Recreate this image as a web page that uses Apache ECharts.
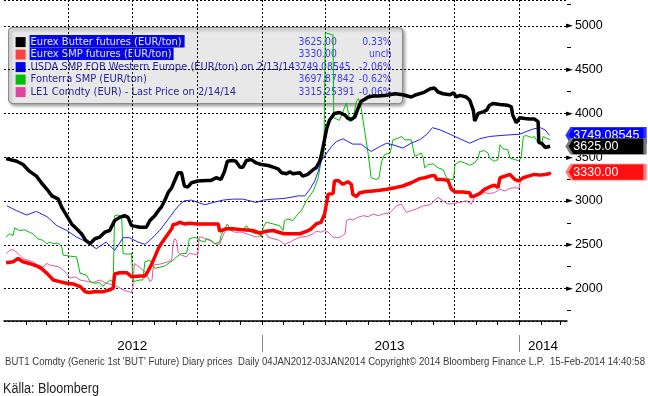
<!DOCTYPE html>
<html>
<head>
<meta charset="utf-8">
<script src="https://cdn.jsdelivr.net/npm/echarts@6/dist/echarts.min.js"></script>
<style>
  html, body { margin: 0; padding: 0; background: #fff; }
  #chart { width: 648px; height: 396px; }
</style>
</head>
<body>
<div id="chart"></div>
<script>
// Eurex butter futures (EUR/ton)
const butter = [
  ['2012-01-04',3484],['2012-01-19',3453],['2012-01-28',3416],['2012-02-06',3340],['2012-02-16',3284],
  ['2012-02-23',3208],['2012-03-02',3133],['2012-03-09',3058],['2012-03-18',3021],['2012-03-23',2926],
  ['2012-03-30',2832],['2012-04-06',2738],['2012-04-13',2682],['2012-04-20',2626],['2012-04-26',2550],
  ['2012-05-02',2512],['2012-05-09',2569],['2012-05-16',2588],['2012-05-23',2644],['2012-05-30',2663],
  ['2012-06-06',2776],['2012-06-13',2813],['2012-06-20',2832],['2012-06-25',2813],['2012-06-30',2719],
  ['2012-07-12',2700],['2012-07-21',2700],['2012-07-26',2776],['2012-08-02',2832],['2012-08-07',2889],
  ['2012-08-11',2926],['2012-08-16',3002],['2012-08-21',3096],['2012-08-26',3152],['2012-08-30',3228],
  ['2012-09-04',3322],['2012-09-09',3322],['2012-09-13',3171],['2012-09-18',3160],['2012-09-23',3208],
  ['2012-10-02',3228],['2012-10-14',3235],['2012-10-21',3235],['2012-10-28',3265],['2012-11-04',3246],
  ['2012-11-09',3340],['2012-11-13',3453],['2012-11-20',3461],['2012-11-25',3453],['2012-12-01',3386],
  ['2012-12-05',3386],['2012-12-10',3461],['2012-12-17',3472],['2012-12-24',3434],['2012-12-31',3416],
  ['2013-01-10',3405],['2013-01-17',3386],['2013-01-24',3367],['2013-01-29',3322],['2013-02-05',3310],
  ['2013-02-10',3333],['2013-02-14',3310],['2013-02-24',3322],['2013-02-28',3284],['2013-03-07',3303],
  ['2013-03-15',3359],['2013-03-19',3378],['2013-03-24',3453],['2013-03-26',3510],['2013-03-29',3623],
  ['2013-04-03',3829],['2013-04-07',3924],['2013-04-14',3999],['2013-04-21',4010],['2013-04-29',3980],
  ['2013-05-03',3942],['2013-05-08',3931],['2013-05-13',3961],['2013-05-17',4048],['2013-05-22',4139],
  ['2013-05-27',4161],['2013-06-01',4187],['2013-06-08',4198],['2013-06-15',4198],['2013-06-27',4206],
  ['2013-07-09',4224],['2013-07-20',4213],['2013-08-01',4187],['2013-08-08',4213],['2013-08-18',4236],
  ['2013-08-28',4281],['2013-09-03',4289],['2013-09-08',4244],['2013-09-15',4224],['2013-09-25',4213],
  ['2013-09-30',4236],['2013-10-04',4187],['2013-10-09',4206],['2013-10-18',4187],['2013-10-23',4150],
  ['2013-10-28',4037],['2013-10-30',3913],['2013-11-04',3999],['2013-11-11',4018],['2013-11-16',4037],
  ['2013-11-20',4093],['2013-11-25',4112],['2013-12-05',4101],['2013-12-16',4093],['2013-12-21',4074],
  ['2013-12-23',3980],['2013-12-28',3894],['2014-01-02',3950],['2014-01-09',3942],['2014-01-16',3935],
  ['2014-01-23',3935],['2014-01-28',3905],['2014-01-29',3668],['2014-02-02',3660],['2014-02-07',3611],
  ['2014-02-09',3592],['2014-02-14',3625]
]

// Eurex SMP futures (EUR/ton)
const smp = [
  ['2012-01-04',2294],['2012-01-14',2306],['2012-01-21',2343],['2012-01-28',2306],['2012-02-06',2287],
  ['2012-02-16',2260],['2012-02-23',2231],['2012-03-02',2174],['2012-03-11',2098],['2012-03-20',2079],
  ['2012-03-30',2061],['2012-04-08',2053],['2012-04-18',2023],['2012-04-25',1966],['2012-04-30',1955],
  ['2012-05-11',1966],['2012-05-20',1963],['2012-05-30',1986],['2012-06-04',2005],['2012-06-06',2166],
  ['2012-06-13',2181],['2012-06-23',2181],['2012-06-30',2136],['2012-07-12',2144],['2012-07-19',2144],
  ['2012-07-23',2192],['2012-07-29',2287],['2012-08-02',2362],['2012-08-07',2456],['2012-08-11',2512],
  ['2012-08-16',2569],['2012-08-21',2626],['2012-08-26',2682],['2012-08-28',2731],['2012-09-02',2738],
  ['2012-09-06',2757],['2012-09-13',2738],['2012-09-20',2746],['2012-10-02',2738],['2012-10-14',2738],
  ['2012-10-31',2738],['2012-11-02',2655],['2012-11-11',2682],['2012-11-20',2682],['2012-12-01',2674],
  ['2012-12-10',2670],['2012-12-19',2663],['2012-12-29',2633],['2013-01-07',2655],['2013-01-17',2663],
  ['2013-01-26',2640],['2013-02-02',2626],['2013-02-14',2626],['2013-02-24',2626],['2013-03-05',2652],
  ['2013-03-12',2682],['2013-03-19',2738],['2013-03-26',2757],['2013-03-31',2851],['2013-04-05',3077],
  ['2013-04-12',3084],['2013-04-14',3228],['2013-04-19',3235],['2013-04-26',3190],['2013-05-03',3220],
  ['2013-05-08',3190],['2013-05-10',3077],['2013-05-15',3050],['2013-05-20',3095],['2013-05-29',3107],
  ['2013-06-08',3115],['2013-06-17',3122],['2013-06-27',3133],['2013-07-09',3152],['2013-07-20',3171],
  ['2013-08-01',3208],['2013-08-13',3255],['2013-08-20',3265],['2013-08-28',3284],['2013-09-03',3292],
  ['2013-09-06',3246],['2013-09-15',3246],['2013-09-22',3235],['2013-09-27',3133],['2013-10-02',3103],
  ['2013-10-13',3103],['2013-10-23',3095],['2013-10-25',3047],['2013-10-30',3058],['2013-11-06',3084],
  ['2013-11-13',3133],['2013-11-20',3160],['2013-11-27',3182],['2013-12-02',3152],['2013-12-05',3265],
  ['2013-12-12',3284],['2013-12-19',3303],['2013-12-26',3246],['2013-12-31',3228],['2014-01-07',3265],
  ['2014-01-14',3284],['2014-01-23',3303],['2014-01-31',3295],['2014-02-07',3303],['2014-02-13',3310],
  ['2014-02-14',3330]
]

// USDA SMP FOB Western Europe (EUR/ton)
const usda = [
  ['2012-01-05',2945],['2012-01-19',2889],['2012-02-02',2840],['2012-02-16',2881],['2012-03-02',2821],
  ['2012-03-16',2719],['2012-03-30',2663],['2012-04-13',2588],['2012-04-27',2531],['2012-05-11',2456],
  ['2012-05-18',2494],['2012-05-25',2531],['2012-06-01',2475],['2012-06-06',2437],['2012-06-11',2494],
  ['2012-06-18',2581],['2012-06-27',2581],['2012-07-09',2531],['2012-07-19',2505],['2012-07-26',2550],
  ['2012-08-02',2607],['2012-08-09',2663],['2012-08-16',2738],['2012-08-23',2813],['2012-08-30',2889],
  ['2012-09-06',2957],['2012-09-13',3002],['2012-09-23',3010],['2012-09-30',2990],['2012-10-12',2957],
  ['2012-10-24',2983],['2012-11-07',3010],['2012-11-20',3021],['2012-12-05',3021],['2012-12-15',3002],
  ['2012-12-24',2983],['2013-01-03',3010],['2013-01-17',3021],['2013-01-31',3028],['2013-02-10',3040],
  ['2013-02-21',3058],['2013-03-03',3058],['2013-03-10',3133],['2013-03-17',3228],['2013-03-22',3340],
  ['2013-03-26',3453],['2013-04-03',3547],['2013-04-10',3623],['2013-04-17',3679],['2013-04-26',3710],
  ['2013-05-03',3679],['2013-05-10',3649],['2013-05-22',3649],['2013-05-29',3604],['2013-06-05',3566],
  ['2013-06-15',3611],['2013-06-27',3660],['2013-07-09',3634],['2013-07-20',3604],['2013-08-01',3660],
  ['2013-08-13',3700],['2013-08-23',3760],['2013-08-31',3837],['2013-09-11',3811],['2013-09-25',3762],
  ['2013-10-09',3710],['2013-10-23',3660],['2013-11-06',3710],['2013-11-20',3736],['2013-12-05',3747],
  ['2013-12-19',3755],['2014-01-02',3762],['2014-01-11',3792],['2014-01-21',3822],['2014-01-31',3837],
  ['2014-02-07',3811],['2014-02-13',3749]
]

// Fonterra SMP (EUR/ton)
const fonterra = [
  ['2012-01-04',2587],['2012-01-09',2626],['2012-01-14',2607],['2012-01-16',2694],['2012-01-23',2663],
  ['2012-01-30',2670],['2012-02-06',2644],['2012-02-11',2626],['2012-02-18',2569],['2012-02-25',2550],
  ['2012-03-02',2512],['2012-03-06',2531],['2012-03-11',2512],['2012-03-18',2520],['2012-03-23',2475],
  ['2012-03-25',2381],['2012-04-04',2370],['2012-04-13',2362],['2012-04-18',2174],['2012-04-27',2155],
  ['2012-05-02',2079],['2012-05-09',2061],['2012-05-16',2068],['2012-05-20',2023],['2012-05-25',2061],
  ['2012-05-30',2098],['2012-06-04',2079],['2012-06-06',2832],['2012-06-11',2840],['2012-06-16',2813],
  ['2012-06-18',2400],['2012-06-25',2392],['2012-06-30',2400],['2012-07-02',2079],['2012-07-12',2098],
  ['2012-07-16',2098],['2012-07-19',2306],['2012-07-26',2324],['2012-08-02',2231],['2012-08-16',2257],
  ['2012-08-28',2324],['2012-09-02',2362],['2012-09-09',2400],['2012-09-16',2400],['2012-09-18',2475],
  ['2012-09-20',2569],['2012-09-28',2587],['2012-10-05',2550],['2012-10-12',2531],['2012-10-14',2569],
  ['2012-10-21',2550],['2012-10-26',2512],['2012-11-02',2531],['2012-11-04',2607],['2012-11-09',2682],
  ['2012-11-13',2738],['2012-11-18',2663],['2012-11-25',2682],['2012-12-05',2663],['2012-12-10',2719],
  ['2012-12-17',2644],['2012-12-24',2626],['2012-12-29',2626],['2012-12-31',2588],['2013-01-03',2700],
  ['2013-01-07',2757],['2013-01-17',2738],['2013-01-26',2719],['2013-01-31',2663],['2013-02-02',2776],
  ['2013-02-07',2795],['2013-02-14',2776],['2013-02-21',2851],['2013-02-26',2889],['2013-03-05',3002],
  ['2013-03-15',3115],['2013-03-22',3265],['2013-03-26',3453],['2013-03-30',3530],['2013-04-01',4920],
  ['2013-04-12',4895],['2013-04-13',3950],['2013-04-21',3920],['2013-05-01',4120],['2013-05-06',3905],
  ['2013-05-10',3924],['2013-05-15',4131],['2013-05-18',4170],['2013-05-22',4055],['2013-05-27',3792],
  ['2013-06-01',3529],['2013-06-05',3265],['2013-06-12',3246],['2013-06-16',3258],['2013-06-20',3453],
  ['2013-06-24',3529],['2013-07-02',3547],['2013-07-06',3698],['2013-07-13',3716],['2013-07-18',3736],
  ['2013-07-23',3698],['2013-08-01',3698],['2013-08-06',3510],['2013-08-11',3529],['2013-08-15',3547],
  ['2013-08-18',3491],['2013-08-20',3378],['2013-08-25',3416],['2013-09-01',3423],['2013-09-08',3378],
  ['2013-09-15',3359],['2013-09-20',3265],['2013-09-25',3246],['2013-09-30',3246],['2013-10-02',3416],
  ['2013-10-09',3453],['2013-10-16',3434],['2013-10-23',3408],['2013-10-30',3434],['2013-11-04',3491],
  ['2013-11-06',3566],['2013-11-13',3574],['2013-11-18',3547],['2013-11-20',3491],['2013-11-27',3453],
  ['2013-12-02',3472],['2013-12-05',3642],['2013-12-09',3597],['2013-12-16',3585],['2013-12-19',3491],
  ['2013-12-26',3472],['2013-12-31',3461],['2014-01-04',3491],['2014-01-07',3736],['2014-01-11',3747],
  ['2014-01-19',3724],['2014-01-23',3736],['2014-01-28',3660],['2014-02-02',3642],['2014-02-04',3736],
  ['2014-02-09',3717],['2014-02-14',3698]
]

// LE1 Comdty (EUR)
const le1 = [
  ['2012-01-04',2400],['2012-01-09',2437],['2012-01-14',2445],['2012-01-21',2400],['2012-01-28',2343],
  ['2012-02-04',2324],['2012-02-11',2306],['2012-02-18',2268],['2012-02-25',2249],['2012-03-02',2287],
  ['2012-03-06',2268],['2012-03-18',2249],['2012-03-25',2211],['2012-03-30',2174],['2012-04-04',2118],
  ['2012-04-11',2136],['2012-04-18',2098],['2012-04-30',2079],['2012-05-06',2068],['2012-05-16',2098],
  ['2012-05-25',2061],['2012-06-04',2042],['2012-06-11',2016],['2012-06-18',1986],['2012-06-25',1966],
  ['2012-06-30',1955],['2012-07-02',2023],['2012-07-04',2287],['2012-07-12',2240],['2012-07-21',2174],
  ['2012-07-26',2079],['2012-07-29',2098],['2012-07-31',2268],['2012-08-09',2279],['2012-08-21',2306],
  ['2012-08-26',2324],['2012-08-28',2512],['2012-08-30',2569],['2012-09-02',2550],['2012-09-04',2418],
  ['2012-09-09',2381],['2012-09-16',2362],['2012-09-20',2400],['2012-09-28',2392],['2012-10-02',2381],
  ['2012-10-04',2588],['2012-10-07',2588],['2012-10-12',2569],['2012-10-19',2550],['2012-10-26',2512],
  ['2012-11-02',2505],['2012-11-04',2550],['2012-11-09',2644],['2012-11-13',2682],['2012-11-23',2644],
  ['2012-12-03',2644],['2012-12-10',2626],['2012-12-17',2607],['2012-12-24',2588],['2012-12-31',2607],
  ['2013-01-05',2644],['2013-01-10',2588],['2013-01-17',2569],['2013-01-26',2550],['2013-02-02',2505],
  ['2013-02-10',2531],['2013-02-14',2550],['2013-02-24',2587],['2013-03-05',2595],['2013-03-15',2626],
  ['2013-03-19',2655],['2013-03-26',2644],['2013-03-31',2663],['2013-04-05',2644],['2013-04-12',2587],
  ['2013-04-19',2581],['2013-04-24',2595],['2013-04-29',2626],['2013-05-01',2776],['2013-05-06',2795],
  ['2013-05-10',2783],['2013-05-17',2813],['2013-05-25',2832],['2013-06-01',2821],['2013-06-08',2851],
  ['2013-06-15',2832],['2013-06-22',2851],['2013-07-02',2870],['2013-07-11',2945],['2013-07-18',2964],
  ['2013-07-25',2870],['2013-08-01',2889],['2013-08-08',2908],['2013-08-18',2945],['2013-08-20',2926],
  ['2013-08-28',2957],['2013-09-03',3010],['2013-09-08',3040],['2013-09-15',3002],['2013-09-22',2964],
  ['2013-09-30',2971],['2013-10-09',2983],['2013-10-18',3002],['2013-10-25',2964],['2013-10-30',3047],
  ['2013-11-06',3084],['2013-11-13',3095],['2013-11-20',3084],['2013-11-27',3095],['2013-12-05',3133],
  ['2013-12-12',3115],['2013-12-19',3145],['2013-12-26',3152],['2014-01-01',3145],['2014-01-04',3265],
  ['2014-01-11',3284],['2014-01-21',3303],['2014-01-28',3303],['2014-02-04',3310],['2014-02-11',3318],
  ['2014-02-14',3315]
]

// legend rows
const legendNames = [
  'Eurex Butter futures (EUR/ton)',
  'Eurex SMP futures (EUR/ton)',
  'USDA SMP FOB Western Europe (EUR/ton) on 2/13/14',
  'Fonterra SMP (EUR/ton)',
  'LE1 Comdty (EUR) - Last Price on 2/14/14',
]
const legendLast = ['3625.00', '3330.00', '3749.08545', '3697.87842', '3315.25391']
const legendChange = ['0.33%', 'unch', '-2.06%', '-0.62%', '-0.06%']
const legendColors = ['#000000', '#ff4040', '#0000ff', '#00c000', '#e0449c']

// right side value tags
const tagValues = [3749.08545, 3625.0, 3330.0]
const tagLabels = ['3749.08545', '3625.00', '3330.00']

// x axis
const xMin = '2012-01-01'
const xMax = '2014-03-10'
const yearLabels = ['2012', '2013', '2014']
const yearMids = ['2012-07-01', '2013-07-01', '2014-02-04']
const yearStarts = ['2013-01-01', '2014-01-01']

const toTime = s => +new Date(s + 'T00:00:00')

const monthTicks = []
for (let y = 2012; y <= 2014; y++) {
  for (let m = 1; m <= 12; m++) {
    const t = toTime(`${y}-${String(m).padStart(2, '0')}-01`)
    if (t > toTime(xMin) && t <= toTime(xMax)) monthTicks.push(t)
  }
}
const quarterTicks = monthTicks.filter(t => new Date(t).getMonth() % 3 === 0)
const yearMidTimes = yearMids.map(toTime)

const TAG_PATH = 'path://M0,5 L5,0 L80,0 L80,10 L5,10 Z'
const LEGEND_FONT = '11px "DejaVu Sans Condensed", "Liberation Sans", sans-serif'
const LEGEND_NUM_FONT = '10.3px "DejaVu Sans Condensed", "Liberation Sans", sans-serif'

function tag(value, label, fill, border, z) {
  return {
    silent: true,
    z: z,
    symbol: TAG_PATH,
    symbolSize: [78, 16],
    symbolKeepAspect: false,
    symbolOffset: [39, 0],
    itemStyle: { color: fill, borderColor: border, borderWidth: 1.5 },
    label: {
      show: true,
      position: 'insideLeft',
      distance: 8,
      color: '#fff',
      fontSize: 12.5,
      fontFamily: 'Liberation Sans',
      formatter: label,
    },
    data: [{ coord: [xMax, value], value: value }],
  }
}

function lineSeries(name, data, color, width, z) {
  return {
    name: name,
    type: 'line',
    xAxisIndex: 0,
    data: data,
    showSymbol: false,
    symbol: 'none',
    z: z,
    lineStyle: { color: color, width: width },
    emphasis: { disabled: true },
  }
}

const series = [
  lineSeries('LE1', le1, '#e455aa', 1, 2),
  lineSeries('Fonterra', fonterra, '#00c000', 1, 3),
  lineSeries('USDA', usda, '#2020ff', 1, 4),
  lineSeries('SMP', smp, '#ff0000', 3.5, 5),
  lineSeries('Butter', butter, '#000000', 3.5, 6),
]
series[2].markPoint = tag(tagValues[0], tagLabels[0], '#0000ff', '#3030ff', 5)
series[4].markPoint = tag(tagValues[1], tagLabels[1], '#000000', '#777777', 7)
series[3].markPoint = tag(tagValues[2], tagLabels[2], '#ff1010', '#ff8080', 6)

// legend box drawn as graphic
const legendChildren = [{
  type: 'rect',
  shape: { x: 0, y: 0, width: 394, height: 76, r: 4 },
  style: {
    fill: 'rgba(241,241,241,0.86)',
    stroke: '#8c8c8c',
    lineWidth: 1.2,
    shadowBlur: 3,
    shadowOffsetX: 2,
    shadowOffsetY: 2,
    shadowColor: 'rgba(0,0,0,0.35)',
  },
}]
const highlightWidths = [155, 144]
legendNames.forEach((name, i) => {
  const cy = 14.5 + i * 12.5
  legendChildren.push({
    type: 'rect',
    shape: { x: 7, y: cy - 5, width: 10, height: 10 },
    style: { fill: legendColors[i] },
  })
  if (i < 2) {
    legendChildren.push({
      type: 'rect',
      shape: { x: 21, y: cy - 7, width: highlightWidths[i], height: 12.5 },
      style: { fill: '#0606e0' },
    })
  }
  legendChildren.push({
    type: 'text',
    x: 22, y: cy,
    style: { text: name, font: LEGEND_FONT, fill: i < 2 ? '#dfe4ff' : '#26269e', textVerticalAlign: 'middle' },
  })
  legendChildren.push({
    type: 'text',
    x: i === 2 ? 286 : 290, y: cy,
    style: { text: legendLast[i], font: LEGEND_NUM_FONT, fill: '#3c3cf0', textVerticalAlign: 'middle' },
  })
  legendChildren.push({
    type: 'text',
    x: 383, y: cy,
    style: { text: legendChange[i], font: LEGEND_NUM_FONT, fill: '#3c3cf0', textAlign: 'right', textVerticalAlign: 'middle' },
  })
})

const chart = echarts.init(document.getElementById('chart'), null, { renderer: 'canvas' })

// decorative axes on a plain value scale in milliseconds, same span as the time axis
const msAxis = {
  type: 'value',
  min: toTime(xMin),
  max: toTime(xMax),
  position: 'bottom',
  axisLabel: { show: false },
  splitLine: { show: false },
}

chart.setOption({
  animation: false,
  backgroundColor: '#ffffff',
  grid: { left: 4, right: 81, top: -3, bottom: 75 },
  xAxis: [
    {
      type: 'time',
      min: xMin,
      max: xMax,
      position: 'bottom',
      axisLine: { show: false },
      axisTick: { show: false },
      axisLabel: { show: false },
      splitLine: { show: false },
    },
    Object.assign({}, msAxis, {
      axisLine: { show: true, lineStyle: { color: '#000', width: 1.5 } },
      axisTick: { show: true, customValues: monthTicks, length: 4, lineStyle: { color: '#000' } },
    }),
    Object.assign({}, msAxis, {
      axisLine: { show: false },
      axisTick: { show: false, customValues: quarterTicks },
      splitLine: { show: true, lineStyle: { color: '#000', width: 1, type: [2, 2] } },
    }),
    Object.assign({}, msAxis, {
      offset: 14,
      axisLine: { show: false },
      axisTick: { show: true, customValues: yearStarts.map(toTime), length: 17, lineStyle: { color: '#8a8a8a', width: 1 } },
      axisLabel: {
        show: true,
        customValues: yearMidTimes,
        margin: 4,
        color: '#000',
        fontSize: 13.5,
        fontFamily: 'Liberation Sans',
        formatter: v => yearLabels[yearMidTimes.indexOf(v)] || '',
      },
    }),
  ],
  yAxis: {
    type: 'value',
    position: 'right',
    min: 1630,
    max: 5294,
    splitNumber: 7,
    axisLine: { show: false },
    axisTick: { show: false },
    minorTick: { show: true, splitNumber: 2, length: 4, lineStyle: { color: '#000' } },
    splitLine: { show: true, lineStyle: { color: '#000', width: 1, type: [2, 2] } },
    axisLabel: {
      margin: -1,
      showMinLabel: false,
      showMaxLabel: false,
      formatter: v => '{a|►}{b|' + v + '}',
      rich: {
        a: { fontSize: 9, color: '#000', fontFamily: 'DejaVu Sans', padding: [0, 2, 0, 0] },
        b: { fontSize: 12.5, color: '#000', fontFamily: 'Liberation Sans' },
      },
    },
  },
  series: series,
  graphic: [
    { type: 'group', left: 8, top: 27, z: 100, children: legendChildren },
    {
      type: 'text',
      x: 5,
      y: 357,
      scaleX: 0.914,
      style: {
        text: "BUT1 Comdty (Generic 1st 'BUT' Future) Diary prices  Daily 04JAN2012-03JAN2014 Copyright© 2014 Bloomberg Finance L.P.  15-Feb-2014 14:40:58",
        font: '10.5px "Liberation Sans", sans-serif',
        fill: '#3a3a3a',
      },
    },
    {
      type: 'text',
      x: 3,
      y: 382,
      scaleX: 0.9,
      style: {
        text: 'Källa: Bloomberg',
        font: '14px "Liberation Sans", Arial, sans-serif',
        fill: '#222',
      },
    },
  ],
})
</script>
</body>
</html>
